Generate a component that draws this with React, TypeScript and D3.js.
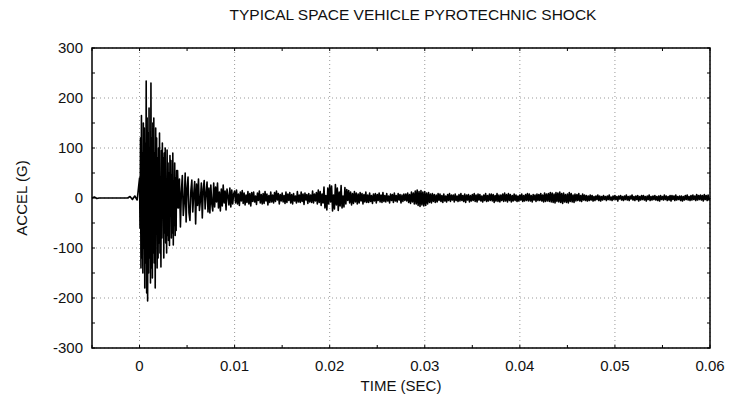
import React from "react";
import * as d3 from "d3";

// Pyroshock acceleration trace, values in G
// pre-trigger, sampled every 0.25 ms from -5 ms
const preTrigger = [0, 2, -1, 0, 0, 0, 0, 0, 0, 0, 0, 0, 0, 0, 0, 0, 3, -3, 4, -4];

// initial burst, sampled every 0.05 ms from 0
const burst = [
  40, -60, 120, -140, 165, -120, 90, -150, 150, -100,
  140, -180, 110, -130, 234, -190, 160, -206, 130, -150,
  180, -120, 100, -170, 230, -140, 120, -160, 150, -110,
  160, -130, 90, -180, 140, -60, 120, -140, 80, -120,
  100, -90, 130, -110, 20, -138, 95, -80, 110, -40,
  80, -120, 90, -70, 100, -90, 10, -110, 96, -75,
  70, -85, 50, -95, 85, -30, 75, -80, 45, -70,
  90, -94, 20, -55, 70, -75, 40, -65, 55, -20,
];

// decay, sampled every 0.1 ms from 4 ms
const decay = [
  55, -20, 38, -58, 12, 45, -35, -10, 50, -48,
  20, 42, -30, -45, 15, 36, -28, 8, 33, -52,
  28, -15, 38, -25, -5, 30, -40, 18, 35, -22,
  10, 32, -28, 20, -30, 26, -12, -26, 30, -18,
  22, -8, 30, -20, 12, -26, 18, -16, 26, -10,
  14, -24, 18, 4, -14, 20, -18, 16, -12, 8,
];

// 10 ms - 20 ms, every 0.1 ms
const mid = [
  14, -10, 16, -12, 8, -15, 12, -6, 15, -11,
  10, -14, 6, -9, 13, -12, 9, -16, 11, -7,
  12, -8, 4, -13, 10, -5, 14, -10, 7, -12,
  9, -11, 13, -6, 8, -14, 5, -9, 12, -8,
  6, -10, 11, -7, 14, -4, 9, -12, 7, -6,
  10, -8, 5, -11, 12, -9, 8, -5, 11, -10,
  7, -12, 9, -6, 4, -10, 13, -8, 6, -9,
  12, -7, 8, -13, 10, -4, 7, -11, 9, -8,
  6, -9, 14, -10, 8, -6, 11, -12, 16, -9,
  13, -15, 8, -10, 22, -20, 5, -24, 20, -12,
];

// 20 ms - 30 ms, every 0.1 ms
const second = [
  26, -8, 24, -26, 6, -22, 27, -14, 20, -25,
  12, -16, 25, -20, 4, -18, 21, -12, 17, -5,
  15, -10, 12, -14, 9, -11, 13, -8, 10, -12,
  8, -10, 11, -6, 9, -12, 7, -8, 12, -9,
  6, -9, 10, -7, 5, -11, 8, -6, 9, -10,
  7, -5, 10, -8, 6, -9, 11, -7, 5, -8,
  9, -6, 4, -10, 8, -5, 7, -9, 10, -6,
  5, -8, 9, -4, 7, -10, 6, -7, 8, -5,
  8, -6, 10, -9, 7, -11, 12, -8, 10, -12,
  14, -12, 16, -15, 13, -17, 15, -14, 12, -16,
];

// 30 ms - 45 ms, every 0.1 ms
const third = [
  13, -15, 10, -12, 11, -9, 8, -10, 9, -7,
  7, -9, 6, -8, 9, -5, 8, -7, 5, -9,
  8, -6, 4, -8, 7, -5, 9, -7, 6, -4,
  6, -8, 8, -5, 4, -7, 7, -6, 9, -5,
  5, -7, 8, -9, 6, -4, 7, -8, 5, -6,
  7, -5, 9, -7, 6, -8, 8, -4, 7, -6,
  4, -8, 6, -5, 9, -7, 5, -6, 8, -5,
  8, -6, 7, -9, 5, -6, 9, -7, 6, -8,
  6, -5, 8, -7, 10, -6, 7, -8, 9, -5,
  7, -8, 5, -6, 8, -5, 6, -7, 4, -6,
  6, -4, 8, -7, 5, -6, 7, -5, 9, -6,
  8, -6, 5, -8, 7, -4, 6, -7, 8, -5,
  7, -5, 9, -6, 6, -8, 10, -7, 8, -6,
  9, -7, 11, -8, 10, -9, 8, -10, 11, -7,
  10, -8, 12, -9, 9, -11, 10, -8, 7, -9,
];

// 45 ms - 60 ms, every 0.1 ms
const tail = [
  8, -10, 11, -7, 9, -8, 6, -9, 8, -6,
  7, -5, 9, -6, 5, -7, 8, -4, 6, -5,
  5, -6, 4, -5, 6, -4, 5, -6, 3, -5,
  4, -3, 6, -5, 4, -6, 3, -4, 5, -3,
  3, -5, 4, -3, 6, -4, 2, -5, 4, -3,
  5, -3, 3, -6, 4, -2, 5, -4, 3, -5,
  4, -3, 6, -4, 3, -5, 4, -2, 6, -4,
  3, -5, 4, -3, 5, -6, 3, -4, 5, -3,
  5, -4, 3, -6, 4, -3, 6, -5, 3, -4,
  4, -3, 5, -4, 3, -5, 4, -6, 5, -3,
  3, -4, 6, -3, 4, -5, 3, -4, 5, -6,
  5, -3, 4, -5, 6, -4, 3, -3, 4, -5,
  4, -6, 3, -4, 5, -3, 6, -4, 3, -5,
  5, -4, 6, -3, 4, -5, 7, -4, 5, -3,
  6, -4, 5, -6, 7, -3, 5, -5, 6, -4,
];

const segments = [
  { t0: -0.005, dt: 0.00025, values: preTrigger },
  { t0: 0, dt: 0.00005, values: burst },
  { t0: 0.004, dt: 0.0001, values: decay },
  { t0: 0.01, dt: 0.0001, values: mid },
  { t0: 0.02, dt: 0.0001, values: second },
  { t0: 0.03, dt: 0.0001, values: third },
  { t0: 0.045, dt: 0.0001, values: tail },
];

const xTicks = [0, 0.01, 0.02, 0.03, 0.04, 0.05, 0.06];
const xMinor = d3.range(-0.005, 0.0601, 0.005);
const yTicks = [-300, -200, -100, 0, 100, 200, 300];
const yMinor = d3.range(-300, 301, 50);

const W = 733;
const H = 411;
const margin = { top: 48, right: 23, bottom: 63, left: 92 };

export default function App() {
  const iw = W - margin.left - margin.right;
  const ih = H - margin.top - margin.bottom;
  const x = d3.scaleLinear().domain([-0.005, 0.06]).range([0, iw]);
  const y = d3.scaleLinear().domain([-300, 300]).range([ih, 0]);

  const points: [number, number][] = [];
  segments.forEach((s) => {
    s.values.forEach((v, i) => points.push([s.t0 + i * s.dt, v]));
  });
  points.push([0.06, 0]);

  const line = d3
    .line<[number, number]>()
    .x((d) => x(d[0]))
    .y((d) => y(d[1]));

  const font = "'Liberation Sans', Arial, sans-serif";
  const textColor = "#111";

  return (
    <svg
      width={W}
      height={H}
      style={{ position: "absolute", left: 0, top: 0, background: "#fff" }}
      fontFamily={font}
    >
      <text x={413} y={20} textAnchor="middle" fontSize={15.5} fill={textColor}>
        TYPICAL SPACE VEHICLE PYROTECHNIC SHOCK
      </text>
      <g transform={`translate(${margin.left},${margin.top})`}>
        {/* grid */}
        {xTicks.map((t) => (
          <line
            key={"gx" + t}
            x1={x(t)}
            x2={x(t)}
            y1={0}
            y2={ih}
            stroke="#999"
            strokeDasharray="1,3"
          />
        ))}
        {yTicks.map((t) => (
          <line
            key={"gy" + t}
            x1={0}
            x2={iw}
            y1={y(t)}
            y2={y(t)}
            stroke="#999"
            strokeDasharray="1,3"
          />
        ))}
        {/* minor ticks */}
        {xMinor.map((t) => (
          <g key={"mx" + t}>
            <line x1={x(t)} x2={x(t)} y1={ih} y2={ih - 3} stroke="#000" />
            <line x1={x(t)} x2={x(t)} y1={0} y2={3} stroke="#000" />
          </g>
        ))}
        {yMinor.map((t) => (
          <g key={"my" + t}>
            <line x1={0} x2={3} y1={y(t)} y2={y(t)} stroke="#000" />
            <line x1={iw} x2={iw - 3} y1={y(t)} y2={y(t)} stroke="#000" />
          </g>
        ))}
        <path d={line(points) || ""} fill="none" stroke="#000" strokeWidth={1.6} strokeLinejoin="round" />
        <rect x={0} y={0} width={iw} height={ih} fill="none" stroke="#000" strokeWidth={1.5} />
        {/* tick labels */}
        {xTicks.map((t) => (
          <text
            key={"lx" + t}
            x={x(t)}
            y={ih + 23}
            textAnchor="middle"
            fontSize={15}
            fill={textColor}
          >
            {t === 0 ? "0" : d3.format(".2f")(t)}
          </text>
        ))}
        {yTicks.map((t) => (
          <text
            key={"ly" + t}
            x={-9}
            y={y(t) + 5}
            textAnchor="end"
            fontSize={15}
            fill={textColor}
          >
            {t}
          </text>
        ))}
        <text
          x={iw / 2}
          y={ih + 43}
          textAnchor="middle"
          fontSize={15}
          fill={textColor}
        >
          TIME (SEC)
        </text>
        <text
          transform={`translate(${-65},${ih / 2}) rotate(-90)`}
          textAnchor="middle"
          fontSize={15}
          fill={textColor}
        >
          ACCEL (G)
        </text>
      </g>
    </svg>
  );
}
